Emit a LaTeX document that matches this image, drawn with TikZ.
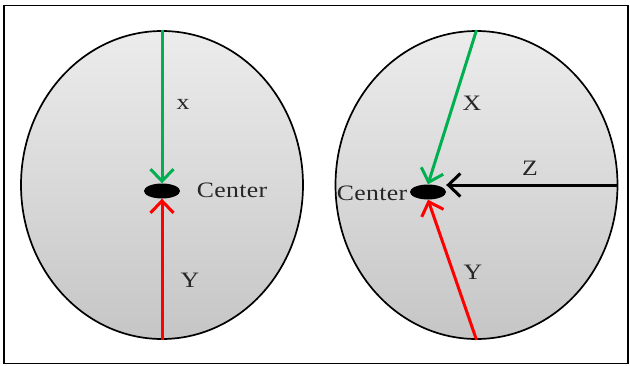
\documentclass[tikz,border=0pt]{standalone}
\usepackage{fontspec}
\setmainfont{Liberation Serif}[FakeStretch=1.17,LetterSpace=1.5]
\usetikzlibrary{shapes.geometric,arrows.meta}
\begin{document}
\begin{tikzpicture}[x=1pt,y=-1pt,
  head/.style={ellipse,draw=black,line width=1.7pt,minimum width=282pt,minimum height=308pt,inner sep=0pt,
    top color=gray!15,bottom color=gray!45},
  dot/.style={ellipse,fill=black,minimum width=36pt,minimum height=15pt,inner sep=0pt},
  arr/.style={line width=3pt,-{Straight Barb[length=12pt,width=23pt,line width=3pt]}},
  lbl/.style={font=\fontsize{22}{24}\selectfont,inner sep=0pt,text=black!85}]
\useasboundingbox (0,0) rectangle (630,365);
\node[draw=black,line width=1.5pt,minimum width=624pt,minimum height=358pt,inner sep=0pt] (frame) at (316,184.5) {};
\node[head] (L) at (162,185) {};
\node[head] (R) at (476.5,185) {};
\node[dot] (Ld) at (162,191) {};
\node[dot] (Rd) at (428,192) {};
\draw[arr,draw={rgb,255:red,0;green,176;blue,80}] (L.north) -- (Ld.north);
\draw[arr,draw=red] (L.south) -- (Ld.south);
\draw[arr,draw={rgb,255:red,0;green,176;blue,80}] (R.north) -- (Rd.north);
\draw[arr,draw=red] (R.south) -- (Rd.south);
\draw[arr,draw=black] (R.east) -- (R.east -| Rd.east);
\node[lbl] (tx) at (183,104) {x};
\node[lbl] (tc1) at (232,190) {Center};
\node[lbl] (ty1) at (190,280) {Y};
\node[lbl] (tX) at (472,103) {X};
\node[lbl] (tz) at (530,168) {Z};
\node[lbl] (tc2) at (372,193) {Center};
\node[lbl] (ty2) at (473,272) {Y};
\end{tikzpicture}
\end{document}
